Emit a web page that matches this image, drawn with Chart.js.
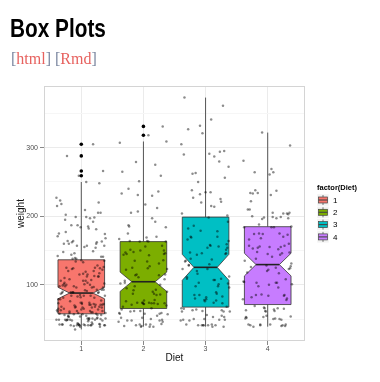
<!DOCTYPE html>
<html><head><meta charset="utf-8">
<script src="https://cdn.jsdelivr.net/npm/chart.js@4.4.0/dist/chart.umd.min.js"></script>
<style>
html,body{margin:0;padding:0;background:#fff;width:380px;height:382px;overflow:hidden}
#wrap{position:relative;width:380px;height:382px}
#c{position:absolute;left:0;top:0}
.t{position:absolute;white-space:nowrap;line-height:normal}
#title{left:10px;top:13px;font-family:"Liberation Sans",Arial,sans-serif;font-weight:bold;font-size:26px;color:#000;transform:scaleX(0.8);transform-origin:0 0}
#links{left:11px;top:50px;font-family:"Liberation Serif",serif;font-size:16px;color:#e7625f}
#links .b{color:#7b87a0}
#xlab{left:174.5px;top:357px;transform:translate(-50%,-50%);font-family:"Liberation Sans",Arial,sans-serif;font-size:10px;color:#111}
</style></head>
<body><div id="wrap">
<canvas id="c" width="380" height="382"></canvas>
<div class="t" id="title">Box Plots</div>
<div class="t" id="links"><span class="b">[</span>html<span class="b">]</span> <span class="b">[</span>Rmd<span class="b">]</span></div>
<div class="t" id="xlab">Diet</div>
</div>
<script>
// ---- data ----
const categories = ['1', '2', '3', '4'];
const legendTitle = 'factor(Diet)';
const yTitle = 'weight';
const weights1 = [
 42,51,59,64,76,93,106,125,149,171,199,205,
 40,49,58,72,84,103,122,138,162,187,209,215,
 43,39,55,67,84,99,115,138,163,187,198,202,
 42,49,56,67,74,87,102,108,136,154,160,157,
 41,42,48,60,79,106,141,164,197,199,220,223,
 41,49,59,74,97,124,141,148,155,160,160,157,
 41,49,57,71,89,112,146,174,218,250,288,305,
 42,50,61,71,84,93,110,116,126,134,125,
 42,51,59,68,85,96,90,92,93,100,100,98,
 41,44,52,63,74,81,89,96,101,112,120,124,
 43,51,63,84,112,139,168,177,182,184,181,175,
 41,49,56,62,72,88,119,135,162,185,195,205,
 41,48,53,60,65,67,71,70,71,81,91,96,
 41,49,62,79,101,128,164,192,227,248,259,266,
 41,49,56,64,68,68,67,68,
 41,45,49,51,57,51,54,
 42,51,61,72,83,89,98,103,113,123,133,142,
 39,35,
 43,48,55,62,65,71,82,88,106,120,144,157,
 41,47,54,58,65,73,77,89,98,107,115,117
];
const weights2 = [
 40,50,62,86,125,163,217,240,275,307,318,331,
 41,55,64,77,90,95,108,111,131,148,164,167,
 43,52,61,73,90,103,127,135,145,163,170,175,
 42,52,58,74,66,68,70,71,72,72,76,74,
 40,49,62,78,102,124,146,164,197,231,259,265,
 42,48,57,74,93,114,136,147,169,205,236,251,
 39,46,58,73,87,100,115,123,144,163,185,192,
 39,46,58,73,92,114,145,156,184,207,212,233,
 39,48,59,74,87,106,134,150,187,230,279,309,
 42,48,59,72,85,98,115,122,143,151,157,150
];
const weights3 = [
 42,53,62,73,85,102,123,138,170,204,235,256,
 41,49,65,82,107,129,159,179,221,263,291,305,
 39,50,63,77,96,111,137,144,151,146,156,147,
 41,49,63,85,107,134,164,186,235,294,327,341,
 41,53,64,87,123,158,201,238,287,332,361,373,
 39,48,61,76,98,116,145,166,198,227,225,220,
 41,48,56,68,80,83,103,112,135,157,169,178,
 41,49,61,74,98,109,128,154,192,232,280,290,
 42,50,61,78,89,109,130,146,170,214,250,272,
 41,55,66,79,101,120,154,182,215,262,295,321
];
const weights4 = [
 42,51,66,85,103,124,155,153,175,184,199,204,
 42,49,63,84,103,126,160,174,204,234,269,281,
 42,55,69,96,131,157,184,188,197,198,199,200,
 42,51,65,86,103,118,127,138,145,146,
 41,50,61,78,98,117,135,141,147,174,197,196,
 40,52,62,82,101,120,144,156,173,210,231,238,
 41,53,66,79,100,123,148,157,168,185,210,205,
 39,50,62,80,104,125,154,170,222,261,303,322,
 40,53,64,85,108,128,152,166,184,203,233,237,
 41,54,67,84,105,122,155,175,205,234,264,264
];
// horizontal jitter offsets (hundredths of a category step)
const jitterX = [
 -31,12,-5,27,-18,36,3,-24,19,-38,8,31,
 -12,22,-35,1,15,-27,34,-8,25,-16,6,-39,
 29,-2,-21,17,38,-30,10,-14,33,-6,21,-25,
 4,-36,26,-10,13,-33,37,-19,0,23,-28,9,
 -3,30,-15,18,-37,7,35,-22,14,-9,28,-34,
 11,-26,39,-1,20,-13,32,-29,5,-20,24,-7,
 16,-40,2,34,-17,27,-11,38,-32,8,-23,19,
 -4,31,-38,13,-16,25,-27,3,36,-9,22,-35,
 10,-19,29,-2,17,-30,6,33,-24,14,-12,37,
 -6,26,-39,1,21,-14,35,-28,9,-21,30,-5,
 18,-33,4,28,-10,39,-25,12,-1,24,-36,15,
 -18,32,-7,20,-31,7,37,-15,11,-26,27,-3,
 34,-20,16,-37,2,23,-11,31,-29,9,-8,38,
 -22,14,-34,5,26,-13,19,-40,29,-4,35,-17,
 12,-27,0,22,-9,33,-32,6,17,-23,39,-12,
 25,-2,-30,13,-19,36,-6,28,-35,10,21,-15,
 3,-38,30,-10,18,-24,8,34,-28,15,-1,27,
 -33,20,-16,37,-7,11,-21,24,4,-37,32,-13,
 -26,16,-3,29
];
const yTickValues = [100, 200, 300];
const yMinorValues = [50, 150, 250, 350];
const fillColors = ['#F8766D', '#7CAE00', '#00BFC4', '#C77CFF'];

const groups = [weights1, weights2, weights3, weights4];

// ---- box statistics (like ggplot2 stat_boxplot, quantile type 7) ----
function quantile(s, p) {
  const h = (s.length - 1) * p, lo = Math.floor(h);
  const hi = Math.min(lo + 1, s.length - 1);
  return s[lo] + (h - lo) * (s[hi] - s[lo]);
}
function boxStats(arr) {
  const s = [...arr].sort((a, b) => a - b);
  const q1 = quantile(s, 0.25), med = quantile(s, 0.5), q3 = quantile(s, 0.75);
  const iqr = q3 - q1, lo = q1 - 1.5 * iqr, hi = q3 + 1.5 * iqr;
  const inside = s.filter(v => v >= lo && v <= hi);
  const nd = 1.58 * iqr / Math.sqrt(s.length);
  return { q1, med, q3, wlo: inside[0], whi: inside[inside.length - 1],
           out: s.filter(v => v < lo || v > hi), nlo: med - nd, nhi: med + nd };
}
const stats = groups.map(boxStats);

const jitterPoints = [];
groups.forEach((g, d) => g.forEach((w, j) => jitterPoints.push({ x: d + 1 + jitterX[j] / 100, y: w })));
const outlierPoints = [];
stats.forEach((st, d) => st.out.forEach(v => outlierPoints.push({ x: d + 1, y: v })));

const BOX_W = 0.75, NOTCH_W = 0.5;

const boxPlugin = {
  id: 'boxes',
  beforeDatasetsDraw(chart) {
    const { ctx, scales: { x, y } } = chart;
    ctx.save();
    stats.forEach((st, d) => {
      const c = d + 1;
      const xl = x.getPixelForValue(c - BOX_W / 2), xr = x.getPixelForValue(c + BOX_W / 2);
      const xc = x.getPixelForValue(c);
      const ind = (1 - NOTCH_W) * (xr - xl) / 2;
      ctx.strokeStyle = '#555'; ctx.lineWidth = 1;
      ctx.beginPath();
      ctx.moveTo(xc, y.getPixelForValue(st.q3)); ctx.lineTo(xc, y.getPixelForValue(st.whi));
      ctx.moveTo(xc, y.getPixelForValue(st.q1)); ctx.lineTo(xc, y.getPixelForValue(st.wlo));
      ctx.stroke();
      const Y = v => y.getPixelForValue(v);
      ctx.beginPath();
      ctx.moveTo(xl, Y(st.q3));
      ctx.lineTo(xl, Y(st.nhi));
      ctx.lineTo(xl + ind, Y(st.med));
      ctx.lineTo(xl, Y(st.nlo));
      ctx.lineTo(xl, Y(st.q1));
      ctx.lineTo(xr, Y(st.q1));
      ctx.lineTo(xr, Y(st.nlo));
      ctx.lineTo(xr - ind, Y(st.med));
      ctx.lineTo(xr, Y(st.nhi));
      ctx.lineTo(xr, Y(st.q3));
      ctx.closePath();
      ctx.fillStyle = fillColors[d]; ctx.fill();
      ctx.strokeStyle = '#333'; ctx.lineWidth = 0.8; ctx.stroke();
      ctx.beginPath();
      ctx.moveTo(xl + ind, Y(st.med)); ctx.lineTo(xr - ind, Y(st.med));
      ctx.strokeStyle = '#222'; ctx.lineWidth = 1.6; ctx.stroke();
    });
    ctx.restore();
  },
  afterDatasetsDraw(chart) {
    const { ctx, chartArea: a } = chart;
    ctx.save();
    ctx.strokeStyle = '#d4d4d4'; ctx.lineWidth = 1;
    ctx.strokeRect(Math.round(a.left) + 0.5, Math.round(a.top) + 0.5, Math.round(a.right - a.left) - 1, Math.round(a.bottom - a.top) - 1);
    ctx.restore();
  },
  afterDraw(chart) {
    const { ctx } = chart;
    ctx.save();
    ctx.fillStyle = '#000';
    ctx.textBaseline = 'middle';
    ctx.font = 'bold 7.5px "Liberation Sans", Arial, sans-serif';
    ctx.fillText(legendTitle, 317, 187.5);
    categories.forEach((cat, i) => {
      const x0 = 317, y0 = 194 + i * 12.3, s = 12;
      ctx.fillStyle = '#f2f2f2'; ctx.fillRect(x0, y0, s, s);
      ctx.strokeStyle = '#fff'; ctx.lineWidth = 0.5; ctx.strokeRect(x0, y0, s, s);
      ctx.strokeStyle = '#444'; ctx.lineWidth = 0.7;
      ctx.beginPath(); ctx.moveTo(x0 + s / 2, y0 + 1); ctx.lineTo(x0 + s / 2, y0 + s - 1); ctx.stroke();
      ctx.fillStyle = fillColors[i];
      ctx.fillRect(x0 + 1.5, y0 + 3, s - 3, s - 6);
      ctx.strokeRect(x0 + 1.5, y0 + 3, s - 3, s - 6);
      ctx.beginPath(); ctx.moveTo(x0 + 1.5, y0 + s / 2); ctx.lineTo(x0 + s - 1.5, y0 + s / 2);
      ctx.lineWidth = 1.1; ctx.stroke();
      ctx.fillStyle = '#000';
      ctx.font = '8px "Liberation Sans", Arial, sans-serif';
      ctx.fillText(cat, 333, y0 + s / 2 + 0.5);
    });
    ctx.restore();
  }
};

const tickFont = { family: '"Liberation Sans", Arial, sans-serif', size: 7 };

new Chart(document.getElementById('c'), {
  type: 'scatter',
  data: {
    datasets: [
      { data: jitterPoints, pointRadius: 1.25, pointHoverRadius: 1.25, backgroundColor: 'rgba(0,0,0,0.45)', borderWidth: 0 },
      { data: outlierPoints, pointRadius: 1.8, pointHoverRadius: 1.8, backgroundColor: '#000', borderWidth: 0 }
    ]
  },
  options: {
    responsive: false, animation: false, devicePixelRatio: 1,
    layout: { padding: { top: 86, right: 75, left: 0, bottom: 0 } },
    plugins: { legend: { display: false }, tooltip: { enabled: false } },
    events: [],
    scales: {
      x: {
        type: 'linear', min: 0.4, max: 4.6,
        afterBuildTicks: s => { s.ticks = categories.map((c, i) => ({ value: i + 1 })); },
        afterFit: s => { s.height = 41; },
        border: { display: false },
        grid: { color: '#ebebeb', lineWidth: 1, tickColor: '#888', tickLength: 4, drawTicks: true },
        ticks: { color: '#4d4d4d', font: tickFont, padding: 0, maxRotation: 0, autoSkip: false,
                 callback: v => categories[Math.round(v) - 1] }
      },
      y: {
        type: 'linear', min: 18.1, max: 389.9,
        afterBuildTicks: s => { s.ticks = [...yMinorValues, ...yTickValues].sort((a, b) => a - b).map(v => ({ value: v })); },
        afterFit: s => { s.width = 44; },
        border: { display: false },
        title: { display: true, text: yTitle, color: '#111', padding: { top: 15, bottom: 0 },
                 font: { family: '"Liberation Sans", Arial, sans-serif', size: 10, weight: 'normal' } },
        grid: {
          color: c => yTickValues.includes(c.tick && c.tick.value) ? '#ebebeb' : '#f6f6f6',
          tickColor: c => yTickValues.includes(c.tick && c.tick.value) ? '#888' : 'rgba(0,0,0,0)',
          lineWidth: 1, tickLength: 4, drawTicks: true
        },
        ticks: { color: '#4d4d4d', font: tickFont, padding: 2, autoSkip: false,
                 callback: v => yTickValues.includes(v) ? String(v) : '' }
      }
    }
  },
  plugins: [boxPlugin]
});
</script>
</body></html>
